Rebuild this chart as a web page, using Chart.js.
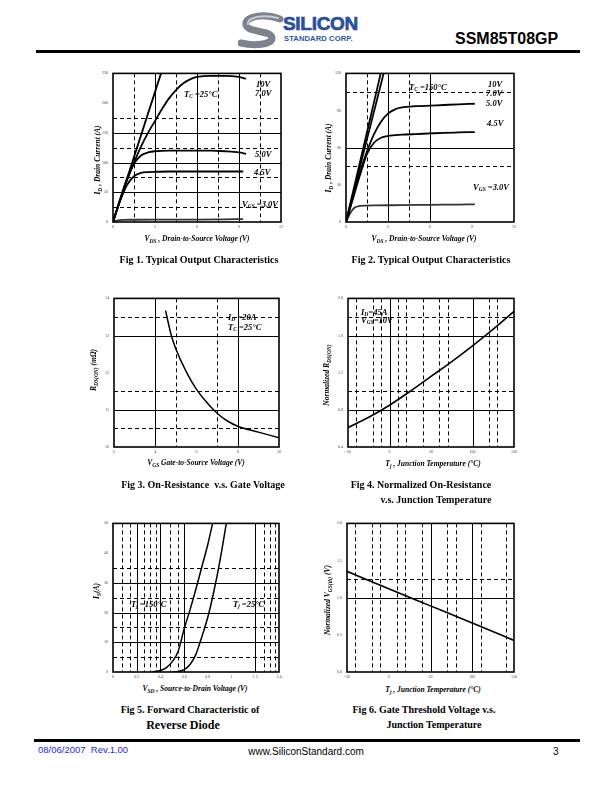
<!DOCTYPE html>
<html><head><meta charset="utf-8">
<script src="https://cdn.jsdelivr.net/npm/chart.js@4.4.1/dist/chart.umd.min.js"></script>
<style>
html,body{margin:0;padding:0;background:#fff;}
body{width:612px;height:792px;position:relative;overflow:hidden;font-family:"Liberation Serif","Times New Roman",serif;color:#000;}
canvas{position:absolute;}
.t{position:absolute;white-space:nowrap;line-height:1;}
.lb{font-style:italic;font-weight:bold;font-size:8.5px;transform:translateY(-50%);}
.lb sub,.ax sub,.ay sub{font-size:5.5px;vertical-align:-1.5px;line-height:0;}
.ax{font-style:italic;font-weight:bold;font-size:7.5px;transform:translate(-50%,-50%);}
.ay{font-style:italic;font-weight:bold;font-size:7.5px;transform:translate(-50%,-50%) rotate(-90deg);}
.fg{font-weight:bold;font-size:10px;transform:translate(-50%,-50%);}
.sans{font-family:"Liberation Sans",Arial,sans-serif;}
</style></head><body>

<!-- header -->
<svg class="t" style="left:238px;top:12px" width="46" height="38" viewBox="0 0 46 38">
  <path d="M42 7 C 26 1, 6 4, 8 13 C 10 21, 34 18, 34 26 C 34 33, 16 34, 3 31" stroke="#7d838e" stroke-width="7" fill="none" stroke-linecap="round"/>
  <path d="M40 6 C 26 2, 9 5, 10 12" stroke="#c9ccd3" stroke-width="2" fill="none" stroke-linecap="round"/>
</svg>
<div class="t sans" style="left:283px;top:14px;font-size:19px;font-weight:bold;color:#2a55a8;letter-spacing:-0.3px;-webkit-text-stroke:0.6px #1d3f86;">SILICON</div>
<div class="t sans" style="left:284px;top:35px;font-size:7.6px;font-weight:bold;color:#2a55a8;letter-spacing:0.1px;">STANDARD CORP.</div>
<div class="t sans" style="left:455px;top:31px;font-size:16px;font-weight:bold;">SSM85T08GP</div>
<div class="t" style="left:36px;top:50px;width:544px;height:3px;background:#000;"></div>

<canvas id="c1"></canvas><canvas id="c2"></canvas><canvas id="c3"></canvas>
<canvas id="c4"></canvas><canvas id="c5"></canvas><canvas id="c6"></canvas>

<!-- Fig 1 texts -->
<div class="t lb" style="left:256px;top:84px">10V</div>
<div class="t lb" style="left:255px;top:93px">7.0V</div>
<div class="t lb" style="left:184px;top:94px">T<sub>C</sub> =25°C</div>
<div class="t lb" style="left:255px;top:154px">5.0V</div>
<div class="t lb" style="left:254px;top:172px">4.5V</div>
<div class="t lb" style="left:242px;top:204px">V<sub>GS</sub> =3.0V</div>
<div class="t ay" style="left:98px;top:160px">I<sub>D</sub> , Drain Current (A)</div>
<div class="t ax" style="left:197px;top:239px">V<sub>DS</sub> , Drain-to-Source Voltage (V)</div>
<div class="t fg" style="left:199px;top:260px">Fig 1. Typical Output Characteristics</div>

<!-- Fig 2 texts -->
<div class="t lb" style="left:409px;top:87px">T<sub>C</sub> =150°C</div>
<div class="t lb" style="left:488px;top:84px">10V</div>
<div class="t lb" style="left:486px;top:93px">7.0V</div>
<div class="t lb" style="left:486px;top:103px">5.0V</div>
<div class="t lb" style="left:487px;top:123px">4.5V</div>
<div class="t lb" style="left:473px;top:187px">V<sub>GS</sub> =3.0V</div>
<div class="t ay" style="left:329px;top:158px">I<sub>D</sub> , Drain Current (A)</div>
<div class="t ax" style="left:424px;top:239px">V<sub>DS</sub> , Drain-to-Source Voltage (V)</div>
<div class="t fg" style="left:431px;top:260px">Fig 2. Typical Output Characteristics</div>

<!-- Fig 3 texts -->
<div class="t lb" style="left:228px;top:317px">I<sub>D</sub> =20A</div>
<div class="t lb" style="left:228px;top:327px">T<sub>C</sub> =25°C</div>
<div class="t ay" style="left:94px;top:370px">R<sub>DS(ON)</sub> (m&Omega;)</div>
<div class="t ax" style="left:196px;top:463px">V<sub>GS</sub> Gate-to-Source Voltage (V)</div>
<div class="t fg" style="left:203px;top:485px">Fig 3. On-Resistance&nbsp; v.s. Gate Voltage</div>

<!-- Fig 4 texts -->
<div class="t lb" style="left:361px;top:312px">I<sub>D</sub>=45A</div>
<div class="t lb" style="left:361px;top:320px">V<sub>GS</sub>=10V</div>
<div class="t ay" style="left:327px;top:375px">Normalized R<sub>DS(ON)</sub></div>
<div class="t ax" style="left:433px;top:464px">T<sub>j</sub> , Junction Temperature (°C)</div>
<div class="t fg" style="left:421px;top:485px">Fig 4. Normalized On-Resistance</div>
<div class="t fg" style="left:436px;top:500px">v.s. Junction Temperature</div>

<!-- Fig 5 texts -->
<div class="t lb" style="left:131px;top:604px">T<sub>j</sub> =150°C</div>
<div class="t lb" style="left:233px;top:604px">T<sub>j</sub> =25°C</div>
<div class="t ay" style="left:97px;top:591px">I<sub>S</sub>(A)</div>
<div class="t ax" style="left:195px;top:689px">V<sub>SD</sub> , Source-to-Drain Voltage (V)</div>
<div class="t fg" style="left:190px;top:710px">Fig 5. Forward Characteristic of</div>
<div class="t fg" style="left:183px;top:725px;font-size:12px">Reverse Diode</div>

<!-- Fig 6 texts -->
<div class="t ay" style="left:328px;top:600px">Normalized V<sub>GS(th)</sub> (V)</div>
<div class="t ax" style="left:433px;top:690px">T<sub>j</sub> , Junction Temperature (°C)</div>
<div class="t fg" style="left:424px;top:710px">Fig 6. Gate Threshold Voltage v.s.</div>
<div class="t fg" style="left:434px;top:725px">Junction Temperature</div>

<!-- footer -->
<div class="t" style="left:34px;top:739px;width:546px;height:3px;background:#000;"></div>
<div class="t sans" style="left:38px;top:745px;font-size:9.5px;color:#2323ff;">08/06/2007&nbsp; Rev.1.00</div>
<div class="t sans" style="left:306px;top:747px;font-size:10px;transform:translateX(-50%);">www.SiliconStandard.com</div>
<div class="t sans" style="left:553px;top:747px;font-size:10px;">3</div>

<script>
// ---------- Fig 1: Typical Output Characteristics, Tc=25C ----------
const f1XTicks = [0, 3, 6, 9, 12];
const f1YTicks = [0, 50, 100, 150, 200, 250];
const f1Vds10 = [0, 3.43];
const f1Id10  = [0, 250];
const f1Vds7  = [0, 0.5, 1, 1.5, 2, 2.5, 3, 3.5, 4, 4.5, 5, 5.5, 6, 7, 8, 9, 9.5];
const f1Id7   = [0, 36, 70, 100, 127, 150, 170, 190, 208, 222, 233, 240, 244, 246, 246, 244, 241];
const f1Vds5  = [0, 0.5, 1, 1.5, 2, 2.5, 3, 4, 5, 6, 7, 8, 9, 9.5];
const f1Id5   = [0, 38, 72, 98, 112, 117, 119, 120, 120, 120, 120, 119, 117, 114.5];
const f1Vds45 = [0, 0.5, 1, 1.5, 2, 2.5, 3, 4, 6, 8, 9.3];
const f1Id45  = [0, 35, 62, 77, 82.5, 84, 84.5, 85, 85, 85, 85];
const f1Vds3  = [0, 0.3, 0.7, 1.5, 3, 6, 8, 9.3];
const f1Id3   = [0, 2.5, 3.5, 3.8, 4, 4, 4.3, 5];
const f1GridSolidX = [3, 6, 9], f1GridDashX = [1.5, 4.5, 7.5, 10.5];
const f1GridSolidY = [50, 100, 150], f1GridDashY = [25, 75, 125, 175];

// ---------- Fig 2: Typical Output Characteristics, Tc=150C ----------
const f2XTicks = [0, 3, 6, 9, 12];
const f2YTicks = [0, 30, 60, 90, 120];
const f2Vds10 = [0, 2.48];
const f2Id10  = [0, 120];
const f2Vds7  = [0, 2.69];
const f2Id7   = [0, 120];
const f2Vds5  = [0, 0.5, 1, 1.5, 2, 2.5, 3, 3.5, 4, 5, 6, 7, 8, 9.2];
const f2Id5   = [0, 20, 40, 57, 71, 81, 87.5, 91, 92.5, 93.5, 94, 94.5, 95, 95.5];
const f2Vds45 = [0, 0.5, 1, 1.5, 2, 2.5, 3, 4, 5, 6, 7, 8, 9.2];
const f2Id45  = [0, 19, 38, 55, 64, 68, 69.5, 70.5, 71, 71.5, 72, 72.3, 72.6];
const f2Vds3  = [0, 0.3, 0.6, 1, 1.5, 2, 4, 6, 8, 9.2];
const f2Id3   = [0, 7, 11.5, 13, 13.3, 13.4, 13.6, 13.9, 14.1, 14.3];
const f2GridSolidX = [3, 6], f2GridDashX = [1.5, 4.5];
const f2GridSolidY = [60], f2GridDashY = [45, 105];

// ---------- Fig 3: On-Resistance vs Gate Voltage ----------
const f3XTicks = [2, 4, 6, 8, 10];
const f3YTicks = [10, 11, 12, 13, 14];
const f3Vgs  = [4.5, 4.78, 5, 5.5, 6, 6.5, 7, 7.5, 8, 9, 10];
const f3Rds  = [13.67, 13.0, 12.64, 12.03, 11.55, 11.2, 10.91, 10.7, 10.56, 10.4, 10.25];
const f3GridSolidX = [4, 8], f3GridDashX = [5, 7];
const f3GridSolidY = [11, 13], f3GridDashY = [10.5, 11.5, 13.5];

// ---------- Fig 4: Normalized On-Resistance vs Tj ----------
const f4XTicks = [-50, 0, 50, 100, 150];
const f4YTicks = [0.4, 0.8, 1.2, 1.6, 2.0];
const f4YLabels = ['0.4', '0.8', '1.2', '1.6', '2.0'];
const f4Tj   = [-50, -25, 0, 25, 50, 75, 100, 125, 150];
const f4Rn   = [0.61, 0.72, 0.85, 1.0, 1.16, 1.32, 1.49, 1.67, 1.86];
const f4GridSolidX = [0, 100], f4GridDashX = [-40, -20, -10, 10, 20, 40, 60, 70, 120, 130];
const f4GridSolidY = [0.8, 1.6], f4GridDashY = [1.0, 1.8];

// ---------- Fig 5: Forward Characteristic of Reverse Diode ----------
const f5XTicks = [0, 0.2, 0.4, 0.6, 0.8, 1.0, 1.2, 1.4];
const f5XLabels = ['0', '0.2', '0.4', '0.6', '0.8', '1', '1.2', '1.4'];
const f5YTicks = [0, 10, 20, 30, 40, 50];
const f5Vsd150 = [0.33, 0.4, 0.45, 0.5, 0.55, 0.6, 0.65, 0.7, 0.75, 0.8, 0.84];
const f5Is150  = [0, 0.5, 1.5, 3.5, 7, 14.5, 21, 28, 35.5, 43, 50];
const f5Vsd25  = [0.5, 0.55, 0.6, 0.65, 0.7, 0.73, 0.77, 0.8, 0.85, 0.9, 0.956];
const f5Is25   = [0, 0.2, 0.8, 2.5, 6, 9.5, 14.5, 18.5, 27, 37, 50];
const f5GridSolidX = [0.2, 0.4, 0.6, 1.2], f5GridDashX = [0.08, 0.14, 0.26, 0.31, 0.36, 0.48, 0.55, 1.27, 1.32, 1.37];
const f5GridSolidY = [10, 20, 30], f5GridDashY = [5, 15, 25, 35];

// ---------- Fig 6: Gate Threshold Voltage vs Tj ----------
const f6XTicks = [-50, 0, 50, 100, 150];
const f6YTicks = [0, 0.5, 1.0, 1.5, 2.0];
const f6YLabels = ['0.0', '0.5', '1.0', '1.5', '2.0'];
const f6Tj   = [-50, 0, 50, 100, 150];
const f6Vth  = [1.355, 1.12, 0.89, 0.66, 0.425];
const f6GridSolidX = [50, 100], f6GridDashX = [-40, -20, -10, 10, 20, 40, 70, 80, 110, 140];
const f6GridSolidY = [1.0], f6GridDashY = [1.25];

// ---------- drawing ----------
const gridPlugin = {
  id: 'dsgrid',
  beforeDatasetsDraw(chart, args, o) {
    const {ctx, chartArea: a, scales: {x, y}} = chart;
    ctx.save();
    ctx.strokeStyle = '#000';
    ctx.lineWidth = 1;
    const v = (val, dash) => {
      const p = Math.round(x.getPixelForValue(val)) + 0.5;
      ctx.setLineDash(dash); ctx.beginPath(); ctx.moveTo(p, a.top); ctx.lineTo(p, a.bottom); ctx.stroke();
    };
    const h = (val, dash) => {
      const p = Math.round(y.getPixelForValue(val)) + 0.5;
      ctx.setLineDash(dash); ctx.beginPath(); ctx.moveTo(a.left, p); ctx.lineTo(a.right, p); ctx.stroke();
    };
    (o.sx || []).forEach(val => v(val, []));
    (o.sy || []).forEach(val => h(val, []));
    (o.dx || []).forEach(val => v(val, [4, 3]));
    (o.dy || []).forEach(val => h(val, [4, 3]));
    ctx.restore();
  },
  afterDatasetsDraw(chart) {
    const {ctx, chartArea: a} = chart;
    ctx.save();
    ctx.strokeStyle = '#000'; ctx.lineWidth = 1.6; ctx.setLineDash([]);
    ctx.strokeRect(a.left, a.top, a.right - a.left, a.bottom - a.top);
    ctx.restore();
  }
};

function pts(xs, ys) { return xs.map((v, i) => ({x: v, y: ys[i]})); }
function fmt(v) { return String(v); }

function makeChart(id, rect, xAxis, yAxis, series, grid) {
  const PL = 16, PT = 6, PR = 6, PB = 12;
  const c = document.getElementById(id);
  c.width = rect.w + PL + PR; c.height = rect.h + PT + PB;
  c.style.left = (rect.l - PL) + 'px'; c.style.top = (rect.t - PT) + 'px';
  const tickFont = {size: 4, family: '"Liberation Serif","Times New Roman",serif'};
  new Chart(c, {
    type: 'scatter',
    data: {datasets: series.map(s => ({
      data: pts(s[0], s[1]), showLine: true, borderColor: s[2] || '#000', borderWidth: s[3] || 1.8,
      pointRadius: 0, fill: false, cubicInterpolationMode: 'monotone'
    }))},
    options: {
      responsive: false, animation: false, events: [],
      layout: {padding: {top: PT, right: PR, left: 0, bottom: 0}},
      plugins: {legend: {display: false}, tooltip: {enabled: false}, dsgrid: grid},
      scales: {
        x: {type: 'linear', min: xAxis.ticks[0], max: xAxis.ticks[xAxis.ticks.length - 1],
            afterFit: s => { s.height = PB; },
            afterBuildTicks: s => { s.ticks = xAxis.ticks.map(v => ({value: v})); },
            ticks: {callback: (v, i) => (xAxis.labels ? xAxis.labels[i] : fmt(xAxis.ticks[i])), font: tickFont, color: '#444', padding: 3, maxRotation: 0, autoSkip: false},
            grid: {display: false, drawTicks: false}, border: {display: false}},
        y: {type: 'linear', min: yAxis.ticks[0], max: yAxis.ticks[yAxis.ticks.length - 1],
            afterFit: s => { s.width = PL; },
            afterBuildTicks: s => { s.ticks = yAxis.ticks.map(v => ({value: v})); },
            ticks: {callback: (v, i) => (yAxis.labels ? yAxis.labels[i] : fmt(yAxis.ticks[i])), font: tickFont, color: '#444', padding: 5, autoSkip: false},
            grid: {display: false, drawTicks: false}, border: {display: false}}
      }
    },
    plugins: [gridPlugin]
  });
}

makeChart('c1', {l: 113, t: 72, w: 168, h: 150}, {ticks: f1XTicks}, {ticks: f1YTicks},
  [[f1Vds10, f1Id10], [f1Vds7, f1Id7], [f1Vds5, f1Id5], [f1Vds45, f1Id45], [f1Vds3, f1Id3, '#333']],
  {sx: f1GridSolidX, dx: f1GridDashX, sy: f1GridSolidY, dy: f1GridDashY});

makeChart('c2', {l: 346, t: 72, w: 168, h: 150}, {ticks: f2XTicks}, {ticks: f2YTicks},
  [[f2Vds10, f2Id10], [f2Vds7, f2Id7], [f2Vds5, f2Id5], [f2Vds45, f2Id45], [f2Vds3, f2Id3, '#333']],
  {sx: f2GridSolidX, dx: f2GridDashX, sy: f2GridSolidY, dy: f2GridDashY});

makeChart('c3', {l: 114, t: 297, w: 165, h: 150}, {ticks: f3XTicks}, {ticks: f3YTicks},
  [[f3Vgs, f3Rds, '#000', 1.5]],
  {sx: f3GridSolidX, dx: f3GridDashX, sy: f3GridSolidY, dy: f3GridDashY});

makeChart('c4', {l: 348, t: 297, w: 166, h: 150}, {ticks: f4XTicks}, {ticks: f4YTicks, labels: f4YLabels},
  [[f4Tj, f4Rn, '#000', 1.6]],
  {sx: f4GridSolidX, dx: f4GridDashX, sy: f4GridSolidY, dy: f4GridDashY});

makeChart('c5', {l: 113, t: 522, w: 166, h: 150}, {ticks: f5XTicks, labels: f5XLabels}, {ticks: f5YTicks},
  [[f5Vsd150, f5Is150, '#000', 1.5], [f5Vsd25, f5Is25, '#000', 1.5]],
  {sx: f5GridSolidX, dx: f5GridDashX, sy: f5GridSolidY, dy: f5GridDashY});

makeChart('c6', {l: 347, t: 522, w: 167, h: 150}, {ticks: f6XTicks}, {ticks: f6YTicks, labels: f6YLabels},
  [[f6Tj, f6Vth, '#000', 1.6]],
  {sx: f6GridSolidX, dx: f6GridDashX, sy: f6GridSolidY, dy: f6GridDashY});
</script>
</body></html>
